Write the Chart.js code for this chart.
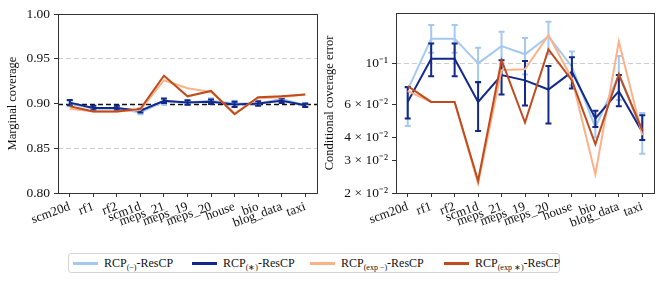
<!DOCTYPE html>
<html>
<head>
<meta charset="utf-8">
<script src="https://cdn.jsdelivr.net/npm/chart.js@4.4.1/dist/chart.umd.min.js"></script>
<style>
body { margin: 0; background: #fff; width: 665px; height: 283px; position: relative; overflow: hidden; font-family: "Liberation Serif", serif; }
#left { position: absolute; left: 0; top: 0; }
#right { position: absolute; left: 320px; top: 0; }
#legend { position: absolute; left: 68px; top: 253px; width: 492px; height: 20px; box-sizing: border-box; border: 1px solid #d4d4d4; border-radius: 3px; }
.item { position: absolute; top: 0; height: 18px; line-height: 18px; font-size: 12px; color: #111; white-space: nowrap; }
.sw { display: inline-block; width: 25px; height: 2.5px; vertical-align: middle; margin-right: 6px; position: relative; top: -1px; }
sub { font-size: 8px; vertical-align: -3px; line-height: 0; }
</style>
</head>
<body>
<canvas id="left" width="325" height="245"></canvas>
<canvas id="right" width="345" height="245"></canvas>
<div id="legend">
  <div class="item" style="left:4px"><span class="sw" style="background:#a3c9f1"></span>RCP<sub>(−)</sub>-ResCP</div>
  <div class="item" style="left:123px"><span class="sw" style="background:#12298a"></span>RCP<sub>(∗)</sub>-ResCP</div>
  <div class="item" style="left:241px"><span class="sw" style="background:#fdb189"></span>RCP<sub>(exp −)</sub>-ResCP</div>
  <div class="item" style="left:375px"><span class="sw" style="background:#c04b1c"></span>RCP<sub>(exp ∗)</sub>-ResCP</div>
</div>
<script>
const categories = ['scm20d', 'rf1', 'rf2', 'scm1d', 'meps_21', 'meps_19', 'meps_20', 'house', 'bio', 'blog_data', 'taxi'];

// marginal coverage (left)
const covMinus    = [0.900, 0.894, 0.894, 0.890, 0.902, 0.901, 0.903, 0.900, 0.900, 0.905, 0.898];
const covMinusErr = [0.003, 0.002, 0.002, 0.002, 0.003, 0.002, 0.003, 0.003, 0.002, 0.003, 0.002];
const covStar     = [0.901, 0.895, 0.895, 0.892, 0.903, 0.901, 0.902, 0.899, 0.900, 0.903, 0.898];
const covStarErr  = [0.003, 0.0025, 0.0025, 0.002, 0.0025, 0.0025, 0.0025, 0.003, 0.0025, 0.0025, 0.002];
const covExpMinus = [0.894, 0.891, 0.891, 0.893, 0.926, 0.917, 0.913, 0.889, 0.906, 0.907, 0.910];
const covExpStar  = [0.897, 0.891, 0.891, 0.894, 0.931, 0.908, 0.914, 0.888, 0.907, 0.908, 0.910];
const covTicks = [0.80, 0.85, 0.90, 0.95, 1.00];

// conditional coverage error (right)
const errMinus     = [0.072, 0.136, 0.136, 0.100, 0.124, 0.112, 0.140, 0.096, 0.045, 0.0865, 0.043];
const errMinusLow  = [0.046, 0.114, 0.114, 0.0785, 0.100, 0.087, 0.112, 0.076, 0.040, 0.0635, 0.0326];
const errMinusHigh = [0.074, 0.161, 0.161, 0.1215, 0.148, 0.137, 0.168, 0.116, 0.052, 0.1095, 0.054];
const errStar      = [0.062, 0.106, 0.106, 0.062, 0.0865, 0.081, 0.0723, 0.090, 0.0505, 0.0708, 0.0427];
const errStarLow   = [0.0505, 0.0853, 0.0853, 0.0432, 0.068, 0.0593, 0.0474, 0.0733, 0.0454, 0.0588, 0.0386];
const errStarHigh  = [0.0745, 0.128, 0.128, 0.0795, 0.104, 0.103, 0.0967, 0.108, 0.0555, 0.0865, 0.0526];
const errExpMinus  = [0.071, 0.062, 0.062, 0.0225, 0.092, 0.093, 0.142, 0.083, 0.0252, 0.131, 0.041];
const errExpStar   = [0.0754, 0.062, 0.062, 0.0233, 0.104, 0.048, 0.119, 0.081, 0.0366, 0.0875, 0.0436];
const errTicks = [0.02, 0.03, 0.04, 0.06, 0.1];
const errTickLabels = ['2 × 10⁻²', '3 × 10⁻²', '4 × 10⁻²', '6 × 10⁻²', '10⁻¹'];

const cLightBlue = '#a3c9f1', cDarkBlue = '#12298a', cLightOrange = '#fdb189', cDarkOrange = '#c04b1c';
const font = { family: '"Liberation Serif", serif', size: 13 };

const errorBars = {
  id: 'errorBars',
  afterDatasetDraw(chart, args) {
    const ds = chart.data.datasets[args.index];
    if (!ds.errLow) return;
    const y = chart.scales.y, ctx = chart.ctx;
    ctx.save();
    ctx.strokeStyle = ds.borderColor;
    ctx.lineWidth = 2;
    args.meta.data.forEach((pt, i) => {
      const y1 = y.getPixelForValue(ds.errLow[i]), y2 = y.getPixelForValue(ds.errHigh[i]);
      ctx.beginPath();
      ctx.moveTo(pt.x, y1); ctx.lineTo(pt.x, y2);
      ctx.moveTo(pt.x - 3, y1); ctx.lineTo(pt.x + 3, y1);
      ctx.moveTo(pt.x - 3, y2); ctx.lineTo(pt.x + 3, y2);
      ctx.stroke();
    });
    ctx.restore();
  }
};

const frame = {
  id: 'frame',
  afterDraw(chart) {
    const a = chart.chartArea, ctx = chart.ctx;
    ctx.save();
    ctx.strokeStyle = '#333';
    ctx.lineWidth = 1;
    ctx.strokeRect(Math.round(a.left) + 0.5, Math.round(a.top) + 0.5, Math.round(a.right - a.left), Math.round(a.bottom - a.top));
    ctx.restore();
  }
};

const refLine = {
  id: 'refLine',
  beforeDatasetsDraw(chart) {
    const a = chart.chartArea, ctx = chart.ctx;
    const yy = Math.round(chart.scales.y.getPixelForValue(0.9)) + 0.5;
    ctx.save();
    ctx.strokeStyle = '#111';
    ctx.lineWidth = 1.3;
    ctx.setLineDash([5, 3]);
    ctx.beginPath(); ctx.moveTo(a.left, yy); ctx.lineTo(a.right, yy); ctx.stroke();
    ctx.restore();
  }
};

function line(data, color, order, low, high) {
  return { data, borderColor: color, backgroundColor: color, borderWidth: 2, pointRadius: 0, tension: 0, order, errLow: low, errHigh: high };
}

function xAxis(height) {
  return {
    type: 'category',
    offset: true,
    grid: { color: 'rgba(0,0,0,0)', tickColor: '#333', tickLength: 4, drawOnChartArea: false },
    border: { display: false },
    ticks: { font, color: '#111', minRotation: 20, maxRotation: 20, autoSkip: false, padding: 2 },
    afterFit(s) { s.height = height; }
  };
}

new Chart(document.getElementById('left'), {
  type: 'line',
  data: {
    labels: categories,
    datasets: [
      line(covMinus, cLightBlue, 4, covMinus.map((v, i) => v - covMinusErr[i]), covMinus.map((v, i) => v + covMinusErr[i])),
      line(covStar, cDarkBlue, 3, covStar.map((v, i) => v - covStarErr[i]), covStar.map((v, i) => v + covStarErr[i])),
      line(covExpMinus, cLightOrange, 2),
      line(covExpStar, cDarkOrange, 1)
    ]
  },
  options: {
    responsive: false,
    animation: false,
    layout: { padding: { top: 14, right: 8, left: 0, bottom: 0 } },
    plugins: { legend: { display: false }, tooltip: { enabled: false } },
    scales: {
      x: xAxis(52),
      y: {
        min: 0.8, max: 1.0,
        afterBuildTicks(s) { s.ticks = covTicks.map(v => ({ value: v })); },
        grid: {
          color: c => (c.tick && (Math.abs(c.tick.value - 0.85) < 1e-6 || Math.abs(c.tick.value - 0.95) < 1e-6)) ? '#cccccc' : 'rgba(0,0,0,0)',
          tickColor: '#333', tickLength: 4, tickBorderDash: []
        },
        border: { display: false, dash: [5, 3] },
        ticks: { font: { family: font.family, size: 13.5 }, color: '#111', padding: 4, callback: v => Number(v).toFixed(2) },
        title: { display: true, text: 'Marginal coverage', font: { family: font.family, size: 12.5 }, color: '#111', padding: { top: 5, bottom: 0 } },
        afterFit(s) { s.width = 58; }
      }
    }
  },
  plugins: [refLine, errorBars, frame]
});

new Chart(document.getElementById('right'), {
  type: 'line',
  data: {
    labels: categories,
    datasets: [
      line(errMinus, cLightBlue, 4, errMinusLow, errMinusHigh),
      line(errStar, cDarkBlue, 3, errStarLow, errStarHigh),
      line(errExpMinus, cLightOrange, 2),
      line(errExpStar, cDarkOrange, 1)
    ]
  },
  options: {
    responsive: false,
    animation: false,
    layout: { padding: { top: 13, right: 11, left: 0, bottom: 0 } },
    plugins: { legend: { display: false }, tooltip: { enabled: false } },
    scales: {
      x: xAxis(52),
      y: {
        type: 'logarithmic',
        min: 0.02, max: 0.187,
        afterBuildTicks(s) { s.ticks = errTicks.map(v => ({ value: v })); },
        grid: {
          color: c => (c.tick && Math.abs(c.tick.value - 0.1) < 1e-9) ? '#cccccc' : 'rgba(0,0,0,0)',
          tickColor: '#333', tickLength: 4, tickBorderDash: []
        },
        border: { display: false, dash: [5, 3] },
        ticks: { font: { family: font.family, size: 13.5 }, color: '#111', padding: 4, callback: (v) => { const i = errTicks.findIndex(t => Math.abs(t - v) < 1e-9); return i >= 0 ? errTickLabels[i] : ''; } },
        title: { display: true, text: 'Conditional coverage error', font: { family: font.family, size: 12.5 }, color: '#111', padding: { top: 2, bottom: 0 } },
        afterFit(s) { s.width = 76; }
      }
    }
  },
  plugins: [errorBars, frame]
});
</script>
</body>
</html>
